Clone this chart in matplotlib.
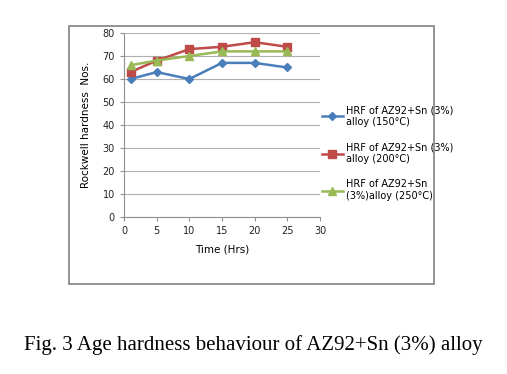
import matplotlib
matplotlib.use("Agg")
import matplotlib.pyplot as plt
from matplotlib.patches import Rectangle

time_hrs = [1, 5, 10, 15, 20, 25]
hrf_150 = [60, 63, 60, 67, 67, 65]
hrf_200 = [63, 68, 73, 74, 76, 74]
hrf_250 = [66, 68, 70, 72, 72, 72]
labels = ["HRF of AZ92+Sn (3%)\nalloy (150°C)",
          "HRF of AZ92+Sn (3%)\nalloy (200°C)",
          "HRF of AZ92+Sn\n(3%)alloy (250°C)"]
xticks = [0, 5, 10, 15, 20, 25, 30]
yticks = [0, 10, 20, 30, 40, 50, 60, 70, 80]

fig = plt.figure(figsize=(5.07, 3.74), dpi=100)
fig.patches.append(Rectangle((69/507, 1-284/374), 365/507, 258/374,
                             transform=fig.transFigure, fill=False,
                             edgecolor="#808080", linewidth=1.2))

ax = fig.add_axes([124/507, 1-217/374, 196/507, 184/374])
ax.plot(time_hrs, hrf_150, color="#4a7ebb", marker="D", markersize=4.5, linewidth=1.8, label=labels[0])
ax.plot(time_hrs, hrf_200, color="#be4b48", marker="s", markersize=6, linewidth=1.8, label=labels[1])
ax.plot(time_hrs, hrf_250, color="#98b954", marker="^", markersize=6, linewidth=1.8, label=labels[2])

ax.set_xlim(0, 30)
ax.set_ylim(0, 80)
ax.set_xticks(xticks)
ax.set_yticks(yticks)
ax.grid(axis="y", color="#b0b0b0", linewidth=0.8)
ax.set_axisbelow(True)
for s in ["top", "right"]:
    ax.spines[s].set_visible(False)
for s in ["left", "bottom"]:
    ax.spines[s].set_color("#909090")
ax.tick_params(axis="both", labelsize=7, colors="#909090", labelcolor="#222222", length=3, direction="out")
ax.set_xlabel("Time (Hrs)", fontsize=7.5, labelpad=6)
ax.set_ylabel("Rockwell hardness  Nos.", fontsize=7.5, labelpad=8)

ax.legend(loc="center left", bbox_to_anchor=(313/507, 1-153/374), bbox_transform=fig.transFigure,
          frameon=False, fontsize=7, labelspacing=1.6, handlelength=2.2, handletextpad=0.3)

fig.text(0.5, 1-345/374, "Fig. 3 Age hardness behaviour of AZ92+Sn (3%) alloy",
         ha="center", va="center", fontsize=15, family="Liberation Serif")

fig.savefig("out.png", dpi=100)
